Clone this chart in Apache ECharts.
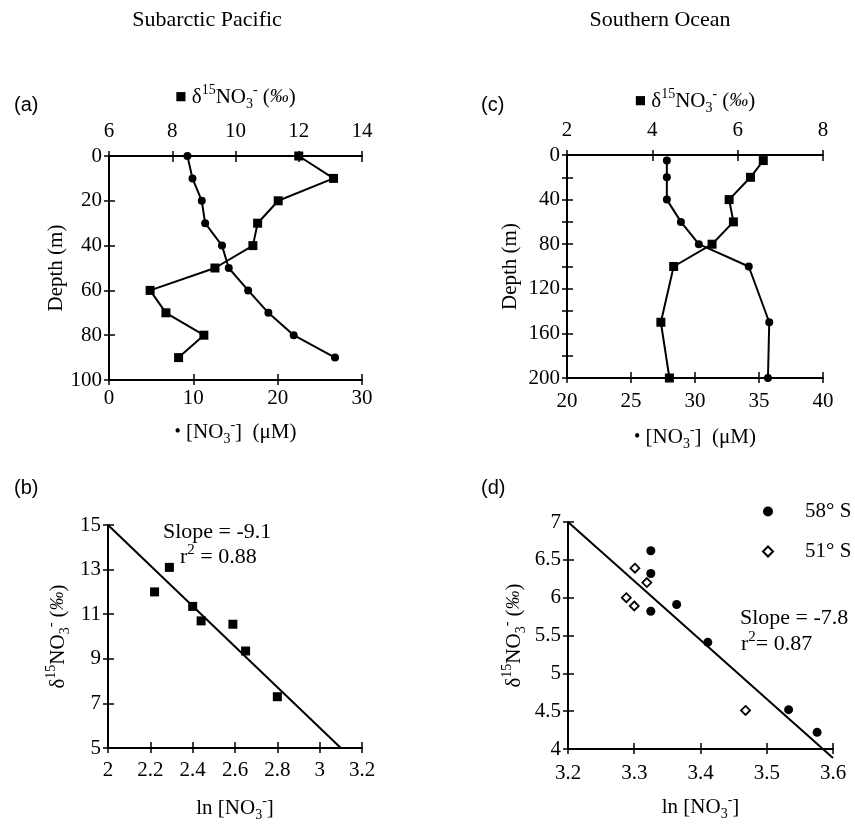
<!DOCTYPE html>
<html><head><meta charset="utf-8">
<script src="https://cdn.jsdelivr.net/npm/echarts@6/dist/echarts.min.js"></script>
<style>html,body{margin:0;padding:0;background:#fff}#c{width:855px;height:826px}</style>
</head><body><div id="c"></div>
<script>
const SERIF = '"Liberation Serif", "Times New Roman", serif';
const SANS = '"Liberation Sans", Arial, sans-serif';

// ---- Panel (a) Subarctic Pacific: depth profiles ----
const depthA = [0, 10, 20, 30, 40, 50, 60, 70, 80, 90];
const d15nA  = [12.0, 13.1, 11.35, 10.7, 10.55, 9.35, 7.3, 7.8, 9.0, 8.2];
const no3A   = [9.3, 9.9, 11.0, 11.4, 13.4, 14.2, 16.5, 18.9, 21.9, 26.8];
// ---- Panel (c) Southern Ocean: depth profiles ----
const depthC = [5, 20, 40, 60, 80, 100, 150, 200];
const d15nC  = [6.6, 6.3, 5.8, 5.9, 5.4, 4.5, 4.2, 4.4];
const no3C   = [27.8, 27.8, 27.8, 28.9, 30.3, 34.2, 35.8, 35.7];
// ---- Panel (b) ----
const lnNo3B = [2.22, 2.29, 2.40, 2.44, 2.59, 2.65, 2.80];
const d15nB  = [12.0, 13.1, 11.35, 10.7, 10.55, 9.35, 7.3];
const fitXB  = [2.0, 3.1];
const fitYB  = [15.0, 5.0];
// ---- Panel (d) ----
const lnNo3D58 = [3.325, 3.325, 3.325, 3.364, 3.411, 3.533, 3.576];
const d15nD58  = [6.62, 6.32, 5.82, 5.91, 5.41, 4.52, 4.22];
const lnNo3D51 = [3.301, 3.319, 3.288, 3.300, 3.468];
const d15nD51  = [6.39, 6.20, 6.00, 5.89, 4.51];
const fitXD  = [3.2, 3.6];
const fitYD  = [7.0, 3.88];
const seriesNamesD = ['58° S', '51° S'];

// ---- tick values ----
const ticksA_top = [6, 8, 10, 12, 14];
const ticksA_bot = [0, 10, 20, 30];
const ticksA_depth = [0, 20, 40, 60, 80, 100];
const ticksC_top = [2, 4, 6, 8];
const ticksC_bot = [20, 25, 30, 35, 40];
const ticksC_depth = [0, 20, 40, 60, 80, 100, 120, 140, 160, 180, 200];
const labelsC_depth = [0, 40, 80, 120, 160, 200];
const ticksB_x = [2, 2.2, 2.4, 2.6, 2.8, 3, 3.2];
const ticksB_y = [5, 7, 9, 11, 13, 15];
const ticksD_x = [3.2, 3.3, 3.4, 3.5, 3.6];
const ticksD_y = [4, 4.5, 5, 5.5, 6, 6.5, 7];

const zip = (xs, ys) => xs.map((x, i) => [x, ys[i]]);

const rich = {
  n:   { fontFamily: SERIF, fontSize: 21, color: '#000', lineHeight: 28 },
  sup: { fontFamily: SERIF, fontSize: 14, color: '#000', lineHeight: 16, verticalAlign: 'top' },
  sub: { fontFamily: SERIF, fontSize: 14, color: '#000', lineHeight: 16, verticalAlign: 'bottom' },
  it:  { fontFamily: SERIF, fontSize: 19, fontStyle: 'italic', color: '#000', lineHeight: 28 },
  mk:  { fontFamily: '"DejaVu Sans", sans-serif', fontSize: 12, color: '#000', lineHeight: 28 },
  dot: { fontFamily: SERIF, fontSize: 18, color: '#000', lineHeight: 28 }
};
const dNameTop = '{mk|■}{n| δ}{sup|15}{n|NO}{sub|3}{sup|-}{n| (}{it|‰}{n|)}';
const dNameY   = '{n|δ}{sup|15}{n|NO}{sub|3}{sup|-}{n| (}{it|‰}{n|)}';
const nNameBot = '{dot|•}{n| [NO}{sub|3}{sup|-}{n|]  (μM)}';
const lnName   = '{n|ln [NO}{sub|3}{sup|-}{n|]}';

function step(t) { return +(t[1] - t[0]).toFixed(6); }

function mainAxis(ticks, grid, position, o) {
  o = o || {};
  return {
    type: 'value', gridIndex: grid, position: position,
    min: ticks[0], max: ticks[ticks.length - 1], interval: step(ticks),
    inverse: !!o.inverse,
    axisLine: { show: true, onZero: false, lineStyle: { color: '#000', width: 2 } },
    axisTick: { show: true, inside: true, length: 6, lineStyle: { color: '#000', width: 1.5 } },
    axisLabel: { show: true, color: '#000', fontFamily: SERIF, fontSize: 21, margin: o.margin || 8,
                 formatter: o.formatter },
    splitLine: { show: false },
    name: o.name || '', nameLocation: 'middle', nameGap: o.nameGap || 30,
    nameRotate: o.nameRotate,
    nameTextStyle: Object.assign({ color: '#000', fontFamily: SERIF, fontSize: 21, rich: rich }, o.nameStyle || {})
  };
}
function dupAxis(ticks, grid, position, inverse) {
  return {
    type: 'value', gridIndex: grid, position: position,
    min: ticks[0], max: ticks[ticks.length - 1], interval: step(ticks), inverse: !!inverse,
    axisLine: { show: false, onZero: false },
    axisTick: { show: true, inside: false, length: 5, lineStyle: { color: '#000', width: 1.5 } },
    axisLabel: { show: false }, splitLine: { show: false }
  };
}

const xAxes = [
  mainAxis(ticksA_top, 0, 'top', { name: dNameTop, nameGap: 45, margin: 14 }),
  mainAxis(ticksA_bot, 0, 'bottom', { name: nNameBot, nameGap: 38, margin: 8 }),
  mainAxis(ticksC_top, 1, 'top', { name: dNameTop, nameGap: 40, margin: 14 }),
  mainAxis(ticksC_bot, 1, 'bottom', { name: nNameBot, nameGap: 45, margin: 13 }),
  mainAxis(ticksB_x, 2, 'bottom', { name: lnName, nameGap: 46, margin: 12 }),
  mainAxis(ticksD_x, 3, 'bottom', { name: lnName, nameGap: 44, margin: 14 }),
  dupAxis(ticksA_top, 0, 'top'),
  dupAxis(ticksA_bot, 0, 'bottom'),
  dupAxis(ticksC_top, 1, 'top'),
  dupAxis(ticksC_bot, 1, 'bottom'),
  dupAxis(ticksB_x, 2, 'bottom'),
  dupAxis(ticksD_x, 3, 'bottom')
];
const yAxes = [
  mainAxis(ticksA_depth, 0, 'left', { inverse: true, name: 'Depth (m)', nameGap: 42, nameRotate: 90, margin: 7 }),
  mainAxis(ticksC_depth, 1, 'left', { inverse: true, name: 'Depth (m)', nameGap: 46, nameRotate: 90, margin: 7,
    formatter: v => (labelsC_depth.indexOf(v) >= 0 ? String(v) : '') }),
  mainAxis(ticksB_y, 2, 'left', { name: dNameY, nameGap: 36, nameRotate: 90, margin: 7 }),
  mainAxis(ticksD_y, 3, 'left', { name: dNameY, nameGap: 40, nameRotate: 90, margin: 7 }),
  dupAxis(ticksA_depth, 0, 'left', true),
  dupAxis(ticksC_depth, 1, 'left', true),
  dupAxis(ticksB_y, 2, 'left'),
  dupAxis(ticksD_y, 3, 'left')
];

const lineStyle = { color: '#000', width: 2 };
const black = { color: '#000', opacity: 1 };

const option = {
  animation: false,
  backgroundColor: '#fff',
  grid: [
    { left: 109, top: 156, width: 253, height: 224 },
    { left: 567, top: 155, width: 256, height: 223 },
    { left: 108, top: 525, width: 254, height: 223 },
    { left: 568, top: 522, width: 265, height: 227 }
  ],
  xAxis: xAxes,
  yAxis: yAxes,
  legend: {
    data: seriesNamesD, orient: 'vertical', left: 757, top: 496,
    itemWidth: 10, itemHeight: 10, itemGap: 19, selectedMode: false,
    textStyle: { color: '#000', fontFamily: SERIF, fontSize: 21, padding: [0, 0, 0, 27] }
  },
  series: [
    { type: 'line', xAxisIndex: 0, yAxisIndex: 0, data: zip(d15nA, depthA),
      symbol: 'rect', symbolSize: 9, itemStyle: black, lineStyle: lineStyle },
    { type: 'line', xAxisIndex: 1, yAxisIndex: 0, data: zip(no3A, depthA),
      symbol: 'circle', symbolSize: 8, itemStyle: black, lineStyle: lineStyle },
    { type: 'line', xAxisIndex: 2, yAxisIndex: 1, data: zip(d15nC, depthC),
      symbol: 'rect', symbolSize: 9, itemStyle: black, lineStyle: lineStyle },
    { type: 'line', xAxisIndex: 3, yAxisIndex: 1, data: zip(no3C, depthC),
      symbol: 'circle', symbolSize: 8, itemStyle: black, lineStyle: lineStyle },
    { type: 'line', xAxisIndex: 4, yAxisIndex: 2, data: zip(fitXB, fitYB), clip: false,
      symbol: 'none', lineStyle: lineStyle },
    { type: 'scatter', xAxisIndex: 4, yAxisIndex: 2, data: zip(lnNo3B, d15nB),
      symbol: 'rect', symbolSize: 9, itemStyle: black },
    { type: 'line', xAxisIndex: 5, yAxisIndex: 3, data: zip(fitXD, fitYD), clip: false,
      symbol: 'none', lineStyle: lineStyle },
    { type: 'scatter', name: seriesNamesD[0], xAxisIndex: 5, yAxisIndex: 3, data: zip(lnNo3D58, d15nD58),
      symbol: 'circle', symbolSize: 9, itemStyle: black },
    { type: 'scatter', name: seriesNamesD[1], xAxisIndex: 5, yAxisIndex: 3, data: zip(lnNo3D51, d15nD51),
      symbol: 'diamond', symbolSize: 9, itemStyle: { color: '#fff', borderColor: '#000', borderWidth: 1.8, opacity: 1 } }
  ],
  graphic: [
    { type: 'text', x: 207, y: 20, style: { text: 'Subarctic Pacific', fontFamily: SERIF, fontSize: 22, fill: '#000', align: 'center', verticalAlign: 'middle' } },
    { type: 'text', x: 660, y: 20, style: { text: 'Southern Ocean', fontFamily: SERIF, fontSize: 22, fill: '#000', align: 'center', verticalAlign: 'middle' } },
    { type: 'text', x: 14, y: 105, style: { text: '(a)', fontFamily: SANS, fontSize: 20, fill: '#000', align: 'left', verticalAlign: 'middle' } },
    { type: 'text', x: 481, y: 105, style: { text: '(c)', fontFamily: SANS, fontSize: 20, fill: '#000', align: 'left', verticalAlign: 'middle' } },
    { type: 'text', x: 14, y: 488, style: { text: '(b)', fontFamily: SANS, fontSize: 20, fill: '#000', align: 'left', verticalAlign: 'middle' } },
    { type: 'text', x: 481, y: 488, style: { text: '(d)', fontFamily: SANS, fontSize: 20, fill: '#000', align: 'left', verticalAlign: 'middle' } },
    { type: 'text', x: 163, y: 532, style: { text: 'Slope = -9.1', fontFamily: SERIF, fontSize: 22, fill: '#000', align: 'left', verticalAlign: 'middle' } },
    { type: 'text', x: 180, y: 557, style: { text: '{n|r}{s|2}{n| = 0.88}', fontFamily: SERIF, fontSize: 22, fill: '#000', align: 'left', verticalAlign: 'middle',
        rich: { n: { fontFamily: SERIF, fontSize: 22, lineHeight: 28 }, s: { fontFamily: SERIF, fontSize: 15, lineHeight: 16, verticalAlign: 'top' } } } },
    { type: 'text', x: 740, y: 618, style: { text: 'Slope = -7.8', fontFamily: SERIF, fontSize: 22, fill: '#000', align: 'left', verticalAlign: 'middle' } },
    { type: 'text', x: 741, y: 644, style: { text: '{n|r}{s|2}{n|= 0.87}', fontFamily: SERIF, fontSize: 22, fill: '#000', align: 'left', verticalAlign: 'middle',
        rich: { n: { fontFamily: SERIF, fontSize: 22, lineHeight: 28 }, s: { fontFamily: SERIF, fontSize: 15, lineHeight: 16, verticalAlign: 'top' } } } }
  ]
};

const chart = echarts.init(document.getElementById('c'), null, { renderer: 'canvas' });
chart.setOption(option);
</script>
</body></html>
